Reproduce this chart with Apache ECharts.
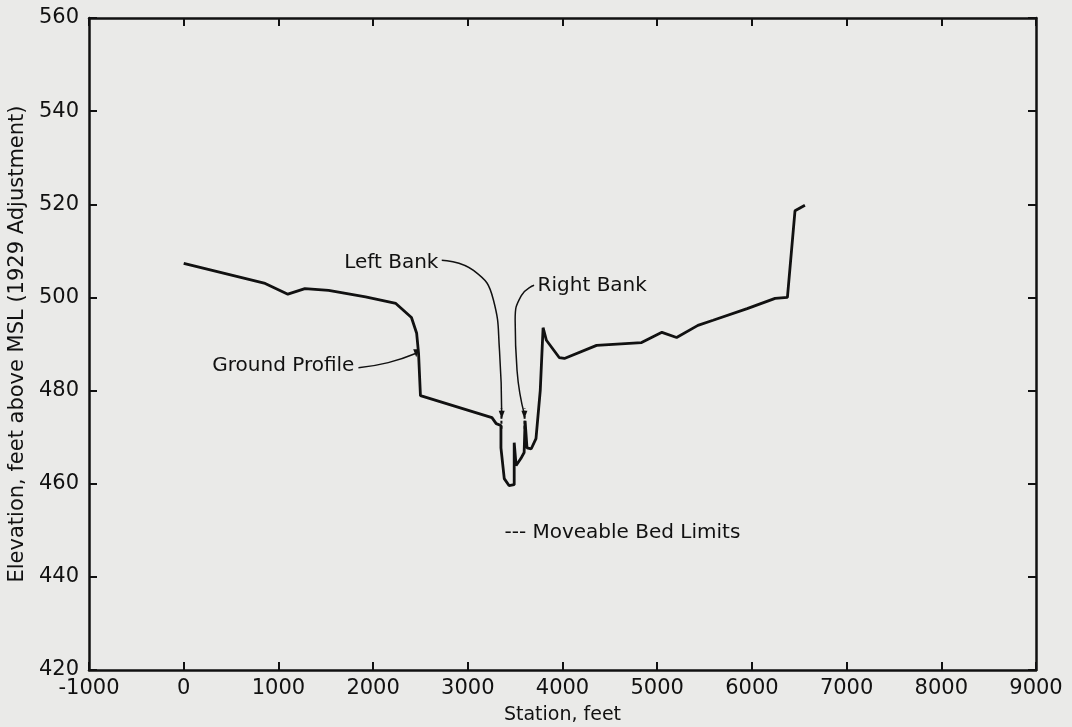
<!DOCTYPE html>
<html>
<head>
<meta charset="utf-8">
<script src="https://cdn.jsdelivr.net/npm/echarts@6/dist/echarts.min.js"></script>
<style>
  html, body { margin: 0; padding: 0; background: #eaeae8; }
  #chart { width: 1072px; height: 727px; }
</style>
</head>
<body>
<div id="chart"></div>
<script>
// Ground profile across the valley: station (ft) and elevation (ft above MSL)
const stations = [0, 860, 1100, 1280, 1530, 1920, 2240, 2405, 2460, 2480, 2500,
  3255, 3300, 3350, 3350, 3385, 3435, 3490, 3490, 3510, 3560, 3595, 3605,
  3625, 3670, 3720, 3765, 3795, 3830, 3965, 4020, 4360, 4835, 5050, 5205,
  5430, 5590, 5950, 6245, 6375, 6455, 6560];
const elevations = [507.3, 503.0, 500.7, 501.9, 501.5, 500.1, 498.7, 495.7, 492.3, 488.0, 478.9,
  474.2, 472.9, 472.5, 467.7, 461.1, 459.6, 459.8, 468.8, 463.9, 465.4, 466.7, 473.5,
  467.7, 467.5, 469.7, 480.0, 493.5, 490.8, 487.1, 486.9, 489.7, 490.3, 492.5, 491.4,
  494.0, 495.1, 497.6, 499.8, 500.0, 518.6, 519.8];

// Moveable bed limits (left and right bank stations)
const bedLimitStations = [3355, 3600];
const bedLimitElevation = [471.8, 476.2];

// Annotation leader lines: [station, elevation]
const leftBankLeader = [[2725, 508.0], [3060, 505.8], [3270, 499.5], [3335, 488.5], [3358, 474.8]];
const rightBankLeader = [[3700, 502.6], [3565, 500.4], [3500, 495.1], [3520, 484.3], [3598, 474.8]];
const groundLeader = [[1845, 484.9], [2160, 486.0], [2455, 488.0]];

// Annotation texts with their anchor points
const notes = [
  { text: 'Left Bank', at: [2722, 507.5], side: 'left' },
  { text: 'Right Bank', at: [3705, 502.6], side: 'right' },
  { text: 'Ground Profile', at: [1835, 485.4], side: 'left' },
  { text: '--- Moveable Bed Limits', at: [3355, 449.5], side: 'right' }
];

// Axis ranges and ticks
const xMin = -1000, xMax = 9000, xStep = 1000;
const yMin = 420, yMax = 560, yStep = 20;

const ink = '#111111';
const fontFamily = '"DejaVu Sans", sans-serif';

function leaderSeries(points) {
  const data = points.map((p, i) => i === points.length - 1
    ? { value: p, symbol: 'triangle', symbolSize: [6, 8], symbolRotate: 180 }
    : { value: p, symbol: 'none' });
  return {
    type: 'line', data, smooth: 0.5, symbol: 'none', showSymbol: true,
    silent: true, lineStyle: { color: ink, width: 1.5 },
    itemStyle: { color: ink }, z: 4
  };
}

const chart = echarts.init(document.getElementById('chart'), null, { renderer: 'canvas' });
const axisLine = { show: true, onZero: false, lineStyle: { color: ink, width: 2.5 } };
const tickStyle = { color: ink, width: 2 };
const plain = v => String(v);

chart.setOption({
  backgroundColor: '#eaeae8',
  animation: false,
  grid: { left: 89, right: 36, top: 18, bottom: 57, containLabel: false, outerBoundsMode: 'none' },
  xAxis: [{
    type: 'value', min: xMin, max: xMax, interval: xStep,
    name: 'Station, feet', nameLocation: 'middle', nameGap: 36,
    nameTextStyle: { color: ink, fontSize: 19, fontFamily },
    axisLine, axisTick: { show: true, inside: true, length: 8, lineStyle: tickStyle },
    axisLabel: { color: ink, fontSize: 21, fontFamily, margin: 8, formatter: plain },
    splitLine: { show: false }
  }, {
    type: 'value', position: 'top', min: xMin, max: xMax, interval: xStep,
    axisLine, axisTick: { show: true, inside: true, length: 8, lineStyle: tickStyle },
    axisLabel: { show: false }, splitLine: { show: false }
  }],
  yAxis: [{
    type: 'value', min: yMin, max: yMax, interval: yStep,
    name: 'Elevation, feet above MSL (1929 Adjustment)', nameLocation: 'middle', nameGap: 58,
    nameTextStyle: { color: ink, fontSize: 21, fontFamily },
    axisLine, axisTick: { show: true, inside: true, length: 8, lineStyle: tickStyle },
    axisLabel: { color: ink, fontSize: 21, fontFamily, margin: 10, formatter: plain },
    splitLine: { show: false }
  }, {
    type: 'value', position: 'right', min: yMin, max: yMax, interval: yStep,
    axisLine, axisTick: { show: true, inside: true, length: 8, lineStyle: tickStyle },
    axisLabel: { show: false }, splitLine: { show: false }
  }],
  series: [
    {
      name: 'Ground Profile', type: 'line', symbol: 'none', silent: true,
      data: stations.map((s, i) => [s, elevations[i]]),
      lineStyle: { color: ink, width: 2.8 }, z: 5
    },
    // short dashed marks for the moveable bed limits
    ...bedLimitStations.map(s => ({
      type: 'line', symbol: 'none', silent: true,
      data: [[s, bedLimitElevation[0]], [s, bedLimitElevation[1]]],
      lineStyle: { color: ink, width: 2, type: [3, 2] }, z: 6
    })),
    leaderSeries(leftBankLeader),
    leaderSeries(rightBankLeader),
    leaderSeries(groundLeader),
    // annotation labels placed in data coordinates
    {
      type: 'scatter', symbol: 'circle', symbolSize: 0.1, silent: true, z: 7,
      itemStyle: { color: ink },
      data: notes.map(n => ({
        value: n.at,
        label: { show: true, formatter: n.text, position: n.side, distance: 3 }
      })),
      label: { color: ink, fontSize: 20, fontFamily, textBorderWidth: 0, textBorderColor: 'transparent', opacity: 1 }
    }
  ]
});
</script>
</body>
</html>
